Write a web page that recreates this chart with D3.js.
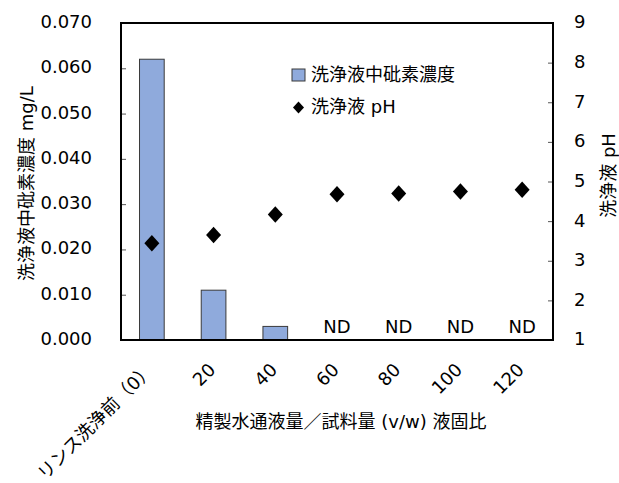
<!DOCTYPE html>
<html>
<head>
<meta charset="utf-8">
<script src="https://cdn.jsdelivr.net/npm/d3@7"></script>
<style>
  body { margin: 0; background: #fff; }
  text { font-family: "DejaVu Sans", "Noto Sans CJK JP", sans-serif; font-size: 18px; fill: #000; }
</style>
</head>
<body>
<svg id="chart" width="619" height="483"></svg>
<script>
// data
const categories = ["リンス洗浄前（0）", "20", "40", "60", "80", "100", "120"]
const arsenic = [0.062, 0.011, 0.003, null, null, null, null]   // null = ND
const ph = [3.44, 3.65, 4.17, 4.68, 4.70, 4.75, 4.79]
const leftTicks = [0, 0.01, 0.02, 0.03, 0.04, 0.05, 0.06, 0.07]
const rightTicks = [1, 2, 3, 4, 5, 6, 7, 8, 9]

const margin = { top: 23, right: 66, bottom: 143, left: 121 }
const W = 619, H = 483
const width = W - margin.left - margin.right,
      height = H - margin.top - margin.bottom

const svg = d3.select('#chart')
const g = svg.append('g').attr('transform', `translate(${margin.left}, ${margin.top})`)

const x = d3.scaleBand().domain(categories).range([0, width]).padding(0)
const yL = d3.scaleLinear().domain([0, 0.07]).range([height, 0])
const yR = d3.scaleLinear().domain([1, 9]).range([height, 0])

// ticks (inside)
g.append('g')
  .call(d3.axisLeft(yL).tickValues(leftTicks).tickSize(-5).tickFormat(''))
  .call(a => a.select('.domain').remove())
  .selectAll('line').attr('stroke', '#555')
g.append('g')
  .attr('transform', `translate(${width},0)`)
  .call(d3.axisRight(yR).tickValues(rightTicks).tickSize(-5).tickFormat(''))
  .call(a => a.select('.domain').remove())
  .selectAll('line').attr('stroke', '#555')

// tick labels
g.selectAll('.ltick').data(leftTicks).enter().append('text')
  .attr('x', -29).attr('y', d => yL(d)).attr('dy', '0.28em')
  .attr('text-anchor', 'end')
  .text(d3.format('.3f'))
g.selectAll('.rtick').data(rightTicks).enter().append('text')
  .attr('x', width + 21).attr('y', d => yR(d)).attr('dy', '0.3em')
  .text(d => d)

// bars
const bw = x.bandwidth() * 0.4
g.selectAll('.bar').data(categories.map((c, i) => ({ c, v: arsenic[i] })).filter(d => d.v != null))
  .enter().append('rect')
  .attr('x', d => x(d.c) + x.bandwidth() / 2 - bw / 2)
  .attr('y', d => yL(d.v))
  .attr('width', bw)
  .attr('height', d => height - yL(d.v))
  .attr('fill', '#8faadc')
  .attr('stroke', '#3a3a3a')
  .attr('stroke-width', 1)

// ND labels
g.selectAll('.nd').data(categories.filter((c, i) => arsenic[i] == null))
  .enter().append('text')
  .attr('x', d => x(d) + x.bandwidth() / 2)
  .attr('y', height - 7)
  .attr('text-anchor', 'middle')
  .text('ND')

// pH diamonds
const diamond = (r) => `M0,${-r * 1.1}L${r},0L0,${r * 1.1}L${-r},0Z`
g.selectAll('.ph').data(categories.map((c, i) => ({ c, v: ph[i] })))
  .enter().append('path')
  .attr('transform', d => `translate(${x(d.c) + x.bandwidth() / 2}, ${yR(d.v)})`)
  .attr('d', diamond(7.5))
  .attr('fill', '#000')

// frame
g.append('rect')
  .attr('width', width).attr('height', height)
  .attr('fill', 'none').attr('stroke', '#000').attr('stroke-width', 2)

// x labels
g.selectAll('.xl').data(categories).enter().append('text')
  .attr('transform', d => `translate(${x(d) + x.bandwidth() / 2 + 3}, ${height + 31}) rotate(-45)`)
  .attr('text-anchor', 'end')
  .text(d => d)

// legend
const lg = g.append('g').attr('transform', 'translate(171, 46)')
lg.append('rect').attr('x', 0).attr('y', 0).attr('width', 13).attr('height', 12)
  .attr('fill', '#8faadc').attr('stroke', '#3a3a3a')
lg.append('text').attr('x', 19).attr('y', 6).attr('dy', '0.35em').text('洗浄液中砒素濃度')
lg.append('path').attr('transform', 'translate(6.5, 38.5)').attr('d', diamond(5.5)).attr('fill', '#000')
lg.append('text').attr('x', 19).attr('y', 38).attr('dy', '0.35em').text('洗浄液 pH')

// axis titles
svg.append('text')
  .attr('transform', `translate(${margin.left + width / 2 + 4}, 428)`)
  .attr('text-anchor', 'middle')
  .attr('fill', '#222')
  .text('精製水通液量／試料量 (v/w) 液固比')
svg.append('text')
  .attr('transform', `translate(33, ${margin.top + height / 2 + 2}) rotate(-90)`)
  .attr('text-anchor', 'middle')
  .text('洗浄液中砒素濃度 mg/L')
svg.append('text')
  .attr('transform', `translate(615, ${margin.top + height / 2 - 6}) rotate(-90)`)
  .attr('text-anchor', 'middle')
  .text('洗浄液 pH')
</script>
</body>
</html>
